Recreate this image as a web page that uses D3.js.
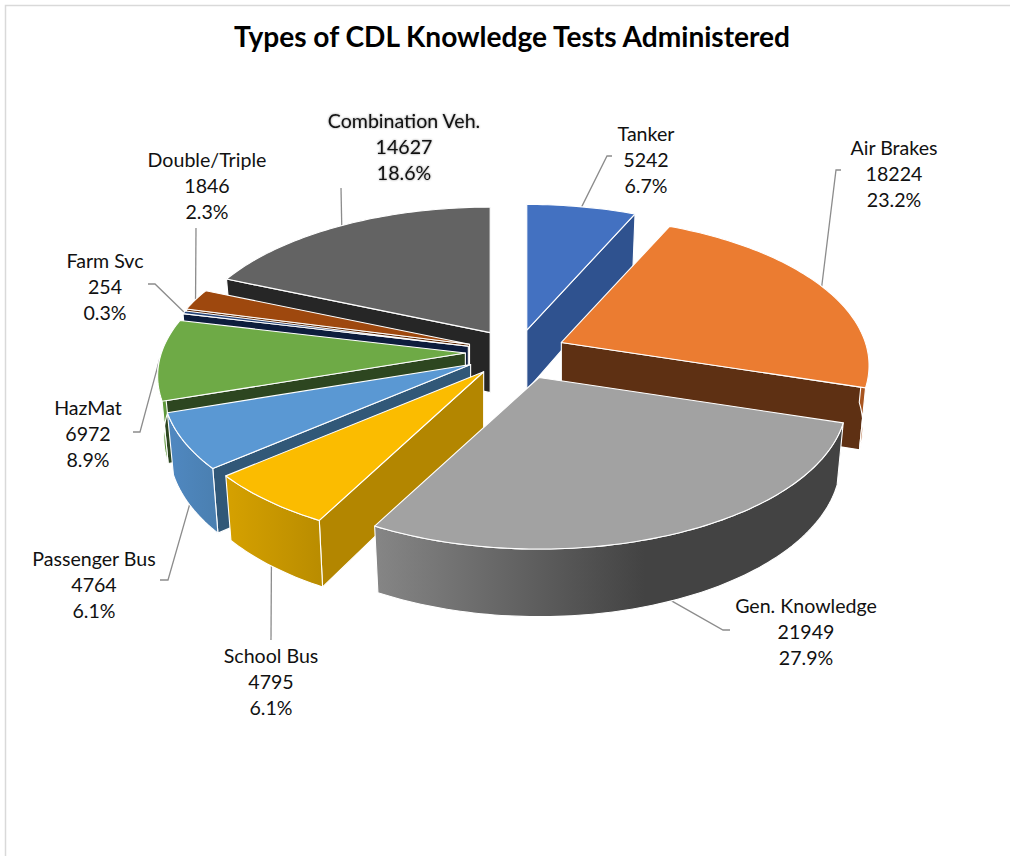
<!DOCTYPE html>
<html>
<head>
<meta charset="utf-8">
<script src="https://cdn.jsdelivr.net/npm/d3@7/dist/d3.min.js"></script>
<style>
html,body{margin:0;padding:0;background:#fff}
svg{display:block}
text{font-family:Lato,"Open Sans",sans-serif;fill:#111}
</style>
</head>
<body>
<svg id="chart" width="1010" height="856"></svg>
<script>
const categories = ["Tanker","Air Brakes","Gen. Knowledge","School Bus","Passenger Bus","HazMat","Farm Svc","Double/Triple","Combination Veh."];
const values = [5242,18224,21949,4795,4764,6972,254,1846,14627];
const topColors = ["#4371C1","#EB7C31","#A2A2A2","#FBBC00","#5A98D3","#6EAA46","#264478","#9E480E","#636363"];
const cutColors = ["#2F528F","#5E3013","#434343","#B38600","#315878","#2D4620","#0D1D3D","#5F2B08","#262626"];
const rimLight = ["#3F6AB5","#C96A2A","#858585","#D4A000","#4F87BF","#5F9A3C","#203A66","#863D0C","#545454"];
const rimDark = ["#2F528F","#A85520","#434343","#B98C00","#4A7FB0","#4F7F33","#1A2E52","#6E3209","#404040"];
const explode = [0.155,0.16,0.19,0.175,0.175,0.17,0.165,0.165,0.16];
const labelX = [646,894,806,271,94,88,105,207,404];
const labelY = [134.5,148.5,606.5,656.5,559.5,408.5,261.5,160.5,121.5];
const elbowX = [607,836,723,271,168,140,155,196,341];
const elbowY = [156,170,630,640,580,432,284,228,188];
const elbowEnd = [612,841,730,271,160,133,148,196,341];
const title = "Types of CDL Knowledge Tests Administered";

const W = 1010, H = 856;
const cx = 517, cy = 352, persp = 0.155, depth = 60, shrink = 0.98;
const sx = d3.scaleLinear().domain([-1,1]).range([-304,304]);
const sy = d3.scaleLinear().domain([-1,1]).range([-145,145]);
const total = d3.sum(values);
const svg = d3.select("#chart");
const fmt = d3.format(".1f");

svg.append("path").attr("d", `M${W},5.5H5.5V${H}`).attr("fill","none").attr("stroke","#d9d9d9").attr("stroke-width",1.5);

const arcs = d3.pie().sort(null).value(d => d).startAngle(0).endAngle(2*Math.PI)(values).map((p,i) => {
  const m = (p.startAngle + p.endAngle)/2;
  return {i, a0:p.startAngle, a1:p.endAngle, m,
    ax: cx + explode[i]*sx(Math.sin(m)),
    ay: cy + explode[i]*sy(-Math.cos(m)),
    v: -Math.cos(m)};
});
const topPt = (s,a) => { const u=Math.sin(a), v=-Math.cos(a), k=1/(1-persp*v); return [s.ax+sx(u)*k, s.ay+sy(v)*k]; };
const botPt = (s,a) => { const u=Math.sin(a), v=-Math.cos(a), k=1/(1-persp*v); return [s.ax+sx(u)*k*shrink, s.ay+sy(v)*k*shrink+depth*k]; };
const samples = (a,b) => { const n=Math.max(2,Math.ceil((b-a)/0.02)); return d3.range(n+1).map(j => a+(b-a)*j/n); };
const line = d3.line();

// gradients
const defs = svg.append("defs");
arcs.forEach(s => {
  const xs = samples(s.a0,s.a1).map(a => botPt(s,a)[0]);
  const g = defs.append("linearGradient").attr("id","rim"+s.i).attr("gradientUnits","userSpaceOnUse")
    .attr("x1",d3.min(xs)).attr("x2",d3.max(xs)).attr("y1",0).attr("y2",0);
  g.append("stop").attr("offset",0).attr("stop-color",rimLight[s.i]);
  g.append("stop").attr("offset",s.i===2?0.58:1).attr("stop-color",rimDark[s.i]);
  g.append("stop").attr("offset",1).attr("stop-color",rimDark[s.i]);
});

// leader lines (behind slices)
const leaders = svg.append("g").attr("fill","none").attr("stroke","#8c8c8c").attr("stroke-width",1.3);
arcs.forEach(s => {
  const st = s.v > 0.2 ? botPt(s,s.m) : topPt(s,s.m);
  leaders.append("path").attr("d", line([st,[elbowX[s.i],elbowY[s.i]],[elbowEnd[s.i],elbowY[s.i]]]));
});

// slices, back to front
arcs.slice().sort((a,b)=>a.v-b.v).forEach(s => {
  const g = svg.append("g").attr("stroke","#fff").attr("stroke-width",1.1).attr("stroke-linejoin","round");
  const apexT=[s.ax,s.ay], apexB=[s.ax,s.ay+depth];
  const q0=[apexT,topPt(s,s.a0),botPt(s,s.a0),apexB];
  const q1=[apexT,topPt(s,s.a1),botPt(s,s.a1),apexB];
  // d3.polygonArea is negative for clockwise-on-screen order
  if (d3.polygonArea(q1) < 0) g.append("path").attr("d",line(q1)+"Z").attr("fill",cutColors[s.i]);
  if (d3.polygonArea(q0) > 0) g.append("path").attr("d",line(q0)+"Z").attr("fill",cutColors[s.i]);
  const r0=Math.max(s.a0,Math.PI/2), r1=Math.min(s.a1,3*Math.PI/2);
  if (r1>r0) {
    const as=samples(r0,r1);
    const pts=as.map(a=>topPt(s,a)).concat(as.slice().reverse().map(a=>botPt(s,a)));
    g.append("path").attr("d",line(pts)+"Z").attr("fill",`url(#rim${s.i})`);
  }
  const pts=[apexT].concat(samples(s.a0,s.a1).map(a=>topPt(s,a)));
  g.append("path").attr("d",line(pts)+"Z").attr("fill",topColors[s.i]);
});

// labels
categories.forEach((c,i) => {
  const t = svg.append("text").attr("text-anchor","middle").attr("font-size",19.6);
  if (i===8) t.style("filter","drop-shadow(0.6px 0.8px 0.8px rgba(0,0,0,0.45))");
  [c, String(values[i]), fmt(values[i]/total*100)+"%"].forEach((l,j) => {
    t.append("tspan").attr("x",labelX[i]).attr("y",labelY[i]+26*j).attr("dy","0.35em").text(l);
  });
});
svg.append("text").attr("x",512).attr("y",37).attr("dy","0.35em").attr("text-anchor","middle")
  .attr("font-size",28.1).attr("font-weight",700).style("fill","#000").text(title);
</script>
</body>
</html>
